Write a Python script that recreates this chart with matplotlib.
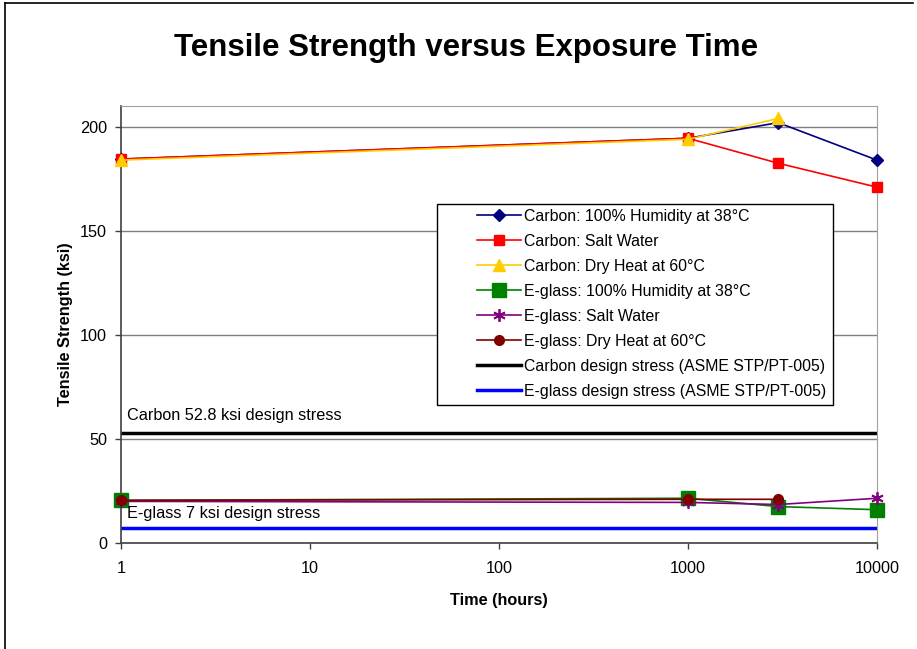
import numpy as np
import matplotlib
matplotlib.use("Agg")
import matplotlib.pyplot as plt
from matplotlib.patches import Rectangle
from matplotlib.lines import Line2D

plt.rcParams['font.family'] = ['Liberation Sans', 'DejaVu Sans']

# exposure times (hours)
hours = [1, 1000, 3000, 10000]
hours_dry = [1, 1000, 3000]

# tensile strength (ksi)
carbon_humid = [184.5, 194.5, 202, 184]
carbon_salt = [184.5, 194.5, 182.5, 171]
carbon_dry = [184, 194, 204]
glass_humid = [20.5, 21.5, 17.5, 16]
glass_salt = [20, 19.5, 18.5, 21.5]
glass_dry = [20.5, 21, 21]

carbon_design = 52.8
glass_design = 7

fs = 11.7

fig = plt.figure(figsize=(9.17, 6.49), dpi=100)
ax = fig.add_axes([121/917, 1-543/649, (877-121)/917, (543-106)/649])

kw = dict(lw=1.2, clip_on=False, zorder=3)
ax.plot(hours, carbon_humid, color="#000080", marker="D", markersize=6,
        label="Carbon: 100% Humidity at 38°C", **kw)
ax.plot(hours, carbon_salt, color="#FF0000", marker="s", markersize=7,
        label="Carbon: Salt Water", **kw)
ax.plot(hours_dry, carbon_dry, color="#FFCC00", marker="^", markersize=9,
        label="Carbon: Dry Heat at 60°C", **kw)
ax.plot(hours, glass_humid, color="#008000", marker="s", markersize=10,
        label="E-glass: 100% Humidity at 38°C", **kw)
ax.plot(hours, glass_salt, color="#800080", marker=(6, 2, 0), markersize=9, mew=1.3,
        label="E-glass: Salt Water", **kw)
ax.plot(hours_dry, glass_dry, color="#800000", marker="o", markersize=7,
        label="E-glass: Dry Heat at 60°C", **kw)
ax.axhline(carbon_design, color="black", lw=2.5,
           label="Carbon design stress (ASME STP/PT-005)")
ax.axhline(glass_design, color="#0000FF", lw=2.5,
           label="E-glass design stress (ASME STP/PT-005)")

ax.set_xscale("log")
ax.set_xlim(1, 10000)
ax.set_ylim(0, 210)
ax.set_xticks([1, 10, 100, 1000, 10000])
ax.set_xticklabels(["1", "10", "100", "1000", "10000"])
ax.xaxis.set_minor_locator(matplotlib.ticker.NullLocator())
ax.set_yticks([0, 50, 100, 150, 200])
ax.tick_params(labelsize=fs, length=4, width=1, color="#404040", pad=6)
ax.tick_params(axis="x", pad=9)
ax.grid(axis="y", color="#808080", lw=1)
ax.set_axisbelow(True)
for s in ["top", "right"]:
    ax.spines[s].set_color("#a0a0a0")
for s in ["left", "bottom"]:
    ax.spines[s].set_color("#404040")
    ax.spines[s].set_linewidth(1.2)

ax.text(1.08, 59, "Carbon 52.8 ksi design stress", fontsize=fs)
ax.text(1.08, 12, "E-glass 7 ksi design stress", fontsize=fs)

ax.set_xlabel("Time (hours)", fontsize=fs, fontweight="bold", labelpad=12)
ax.set_ylabel("Tensile Strength (ksi)", fontsize=fs, fontweight="bold", labelpad=5)
fig.text(466/917, 1-48/649, "Tensile Strength versus Exposure Time", fontsize=22.5,
         fontweight="bold", ha="center", va="center")

# legend box (Excel style, wide left margin)
ax.add_patch(Rectangle(((437-121)/756, (543-405)/437), (833-437)/756, (405-204)/437,
                       transform=ax.transAxes, fill=True, fc="white", ec="black",
                       lw=1, zorder=4))
leg = ax.legend(loc="upper left", bbox_to_anchor=((477-121)/756, (543-209)/437),
                fontsize=11.4, frameon=False, borderpad=0, labelspacing=0.63,
                handlelength=2.75, handletextpad=0.25, borderaxespad=0)
leg.set_zorder(5)

# figure border: top and left only
fig.add_artist(Line2D([5/917, 5/917], [0, 1-3/649], transform=fig.transFigure,
                      color="black", lw=1.2))
fig.add_artist(Line2D([5/917, 913/917], [1-3/649, 1-3/649], transform=fig.transFigure,
                      color="black", lw=1.2))

fig.savefig("out.png", dpi=100)
